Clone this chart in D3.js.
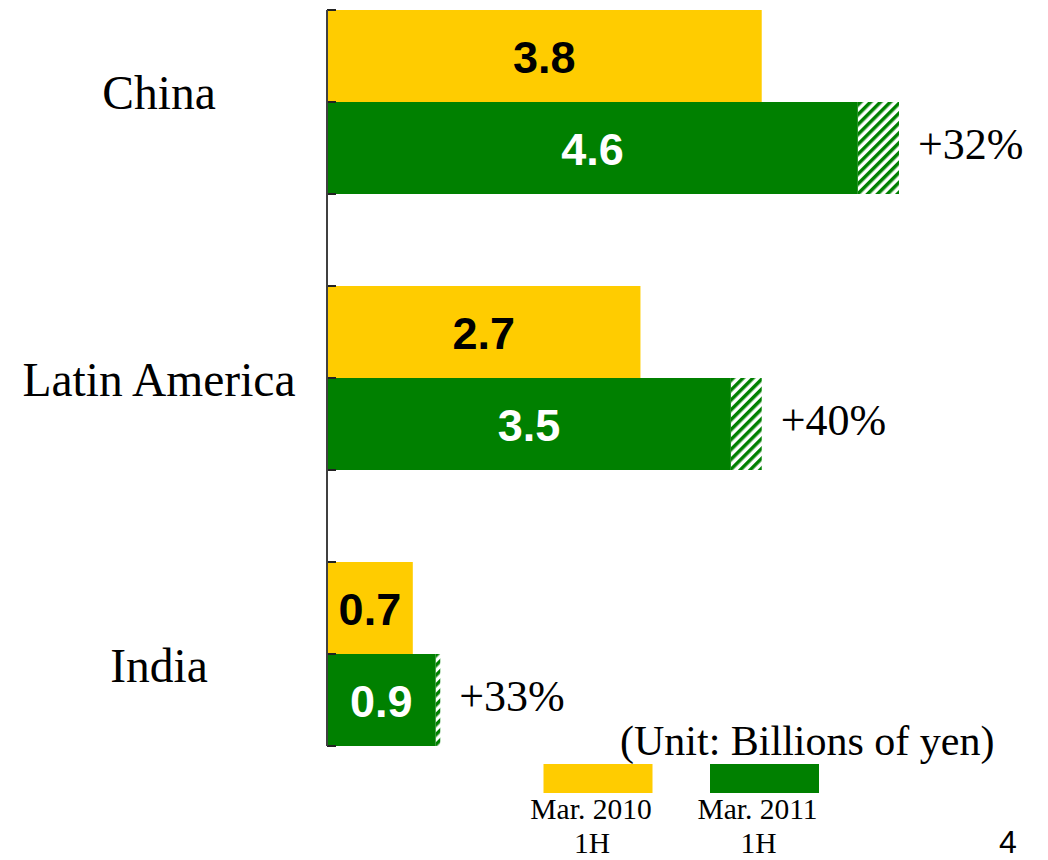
<!DOCTYPE html>
<html>
<head>
<meta charset="utf-8">
<script src="https://cdn.jsdelivr.net/npm/d3@7"></script>
<style>
  html, body { margin: 0; padding: 0; background: #fff; }
  svg { display: block; }
</style>
</head>
<body>
<svg id="chart"></svg>
<script>
// data
const categories = ["China", "Latin America", "India"];
const series = ["Mar. 2010 1H", "Mar. 2011 1H"];
const values2010 = [3.8, 2.74, 0.75];
const values2011 = [4.64, 3.53, 0.95];
const totals2011 = [5.0, 3.8, 0.99];   // end of the hatched part
const labels2010 = ["3.8", "2.7", "0.7"];
const labels2011 = ["4.6", "3.5", "0.9"];
const growth = ["+32%", "+40%", "+33%"];
const unitText = "(Unit: Billions of yen)";
const pageNumber = "4";

const width = 1048, height = 860;
const yellow = "#FFCC00", green = "#008000";
const serif = "'Liberation Serif', 'Times New Roman', serif";
const sans = "'Liberation Sans', Arial, sans-serif";

let svg = d3.select("#chart")
    .attr("width", width)
    .attr("height", height);

// hatch pattern for the extra part of the 2011 bar
let defs = svg.append("defs");
let pat = defs.append("pattern")
    .attr("id", "hatch")
    .attr("patternUnits", "userSpaceOnUse")
    .attr("width", 7)
    .attr("height", 7)
    .attr("patternTransform", "rotate(45)");
pat.append("rect").attr("width", 7).attr("height", 7).attr("fill", "#fff");
pat.append("rect").attr("width", 3.5).attr("height", 7).attr("fill", green);

let x = d3.scaleLinear().domain([0, 6]).range([327, 327 + 6 * 114.4]);

let y = d3.scaleBand()
    .domain(categories)
    .range([10, 746])
    .paddingInner(1 / 3)
    .paddingOuter(0);

let ySub = d3.scaleBand()
    .domain(["2010", "2011"])
    .range([0, y.bandwidth()]);

// category labels sit on their own spacing
let yLabel = d3.scalePoint().domain(categories).range([109, 682]);

let rows = categories.map((c, i) => ({
    cat: c,
    v10: values2010[i],
    v11: values2011[i],
    tot: totals2011[i],
    l10: labels2010[i],
    l11: labels2011[i],
    g: growth[i]
}));

// yellow bars
svg.selectAll(".bar10")
    .data(rows)
    .enter()
    .append("rect")
    .attr("class", "bar10")
    .attr("x", x(0))
    .attr("y", d => y(d.cat) + ySub("2010"))
    .attr("width", d => x(d.v10) - x(0))
    .attr("height", ySub.bandwidth())
    .attr("fill", yellow);

// hatched extension
svg.selectAll(".hatch")
    .data(rows)
    .enter()
    .append("rect")
    .attr("class", "hatch")
    .attr("x", d => x(d.v11))
    .attr("y", d => y(d.cat) + ySub("2011"))
    .attr("width", d => x(d.tot) - x(d.v11))
    .attr("height", ySub.bandwidth())
    .attr("fill", "url(#hatch)");

// green bars
svg.selectAll(".bar11")
    .data(rows)
    .enter()
    .append("rect")
    .attr("class", "bar11")
    .attr("x", x(0))
    .attr("y", d => y(d.cat) + ySub("2011"))
    .attr("width", d => x(d.v11) - x(0))
    .attr("height", ySub.bandwidth())
    .attr("fill", green);

// value labels inside bars
svg.selectAll(".lab10")
    .data(rows)
    .enter()
    .append("text")
    .attr("class", "lab10")
    .text(d => d.l10)
    .attr("x", d => (x(0) + x(d.v10)) / 2)
    .attr("y", d => y(d.cat) + ySub("2010") + ySub.bandwidth() / 2 + 16.5)
    .attr("text-anchor", "middle")
    .style("font-family", sans)
    .style("font-weight", "bold")
    .style("font-size", "45px")
    .style("fill", "#000");

svg.selectAll(".lab11")
    .data(rows)
    .enter()
    .append("text")
    .attr("class", "lab11")
    .text(d => d.l11)
    .attr("x", d => (x(0) + x(d.v11)) / 2)
    .attr("y", d => y(d.cat) + ySub("2011") + ySub.bandwidth() / 2 + 16.5)
    .attr("text-anchor", "middle")
    .style("font-family", sans)
    .style("font-weight", "bold")
    .style("font-size", "45px")
    .style("fill", "#fff");

// growth labels
svg.selectAll(".growth")
    .data(rows)
    .enter()
    .append("text")
    .attr("class", "growth")
    .text(d => d.g)
    .attr("x", d => x(d.tot) + 19)
    .attr("y", d => y(d.cat) + ySub("2011") + ySub.bandwidth() / 2 + 11)
    .style("font-family", serif)
    .style("font-size", "44px")
    .style("fill", "#000");

// category labels
svg.selectAll(".cat")
    .data(categories)
    .enter()
    .append("text")
    .attr("class", "cat")
    .text(d => d)
    .attr("x", 159)
    .attr("y", d => yLabel(d))
    .attr("text-anchor", "middle")
    .style("font-family", serif)
    .style("font-size", "47.5px")
    .style("fill", "#000");

// vertical axis with ticks at every bar edge
let tickYs = [];
categories.forEach(c => {
    tickYs.push(y(c), y(c) + ySub.bandwidth(), y(c) + y.bandwidth());
});
svg.selectAll(".tick")
    .data(tickYs)
    .enter()
    .append("line")
    .attr("class", "tick")
    .attr("x1", x(0))
    .attr("x2", x(0) + 9)
    .attr("y1", d => d)
    .attr("y2", d => d)
    .style("stroke", "#222")
    .style("stroke-width", 2);

svg.append("line")
    .attr("x1", x(0))
    .attr("x2", x(0))
    .attr("y1", y.range()[0])
    .attr("y2", y.range()[1])
    .style("stroke", "#404040")
    .style("stroke-width", 2);

// unit note
svg.append("text")
    .text(unitText)
    .attr("x", 620)
    .attr("y", 755)
    .style("font-family", serif)
    .style("font-size", "42px")
    .style("fill", "#000");

// legend
let legendX = d3.scalePoint().domain(series).range([598, 764.5]);
let legendColor = d3.scaleOrdinal().domain(series).range([yellow, green]);

let leg = svg.selectAll(".legend")
    .data(series)
    .enter()
    .append("g")
    .attr("class", "legend")
    .attr("transform", d => `translate(${legendX(d)},0)`);

leg.append("rect")
    .attr("x", -54.5)
    .attr("y", 764)
    .attr("width", 109)
    .attr("height", 29)
    .attr("fill", d => legendColor(d));

leg.append("text")
    .attr("text-anchor", "middle")
    .style("font-family", serif)
    .style("font-size", "29.5px")
    .style("fill", "#000")
    .selectAll("tspan")
    .data(d => [d.slice(0, 9), d.slice(10)])
    .enter()
    .append("tspan")
    .attr("x", (d, i) => i === 0 ? -7 : -6)
    .attr("y", (d, i) => i === 0 ? 819 : 853)
    .text(d => d);

// page number
svg.append("text")
    .text(pageNumber)
    .attr("x", 999)
    .attr("y", 853)
    .style("font-family", sans)
    .style("font-size", "32px")
    .style("fill", "#000");
</script>
</body>
</html>
